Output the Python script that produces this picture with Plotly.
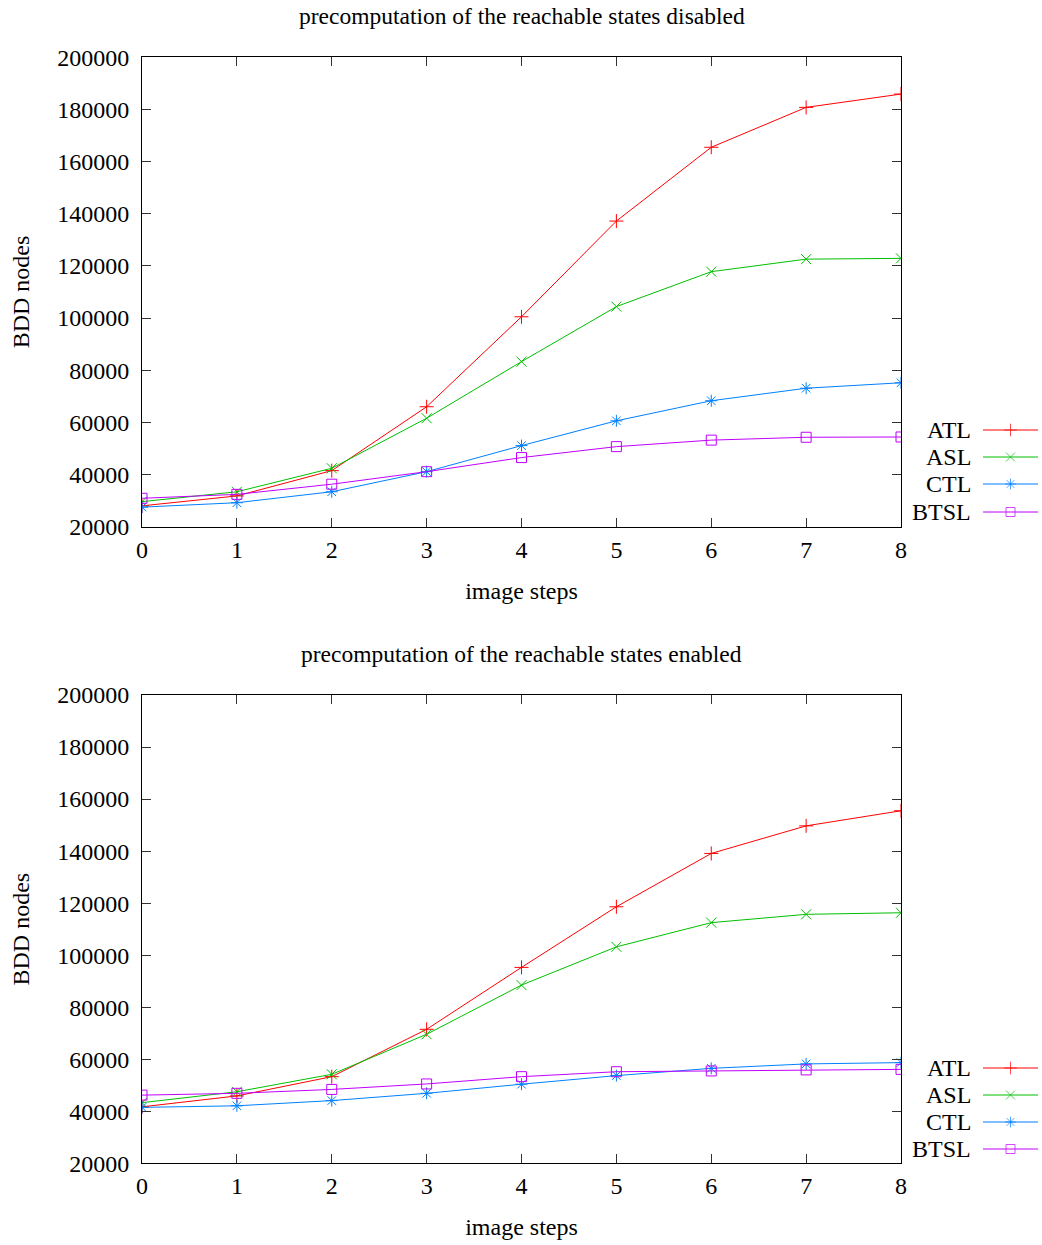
import plotly.graph_objects as go

W, H = 1042, 1245

steps = [0, 1, 2, 3, 4, 5, 6, 7, 8]
series_names = ["ATL", "ASL", "CTL", "BTSL"]

# precomputation disabled
atl_disabled = [28000, 31800, 41500, 66000, 100500, 137200, 165500, 180800, 185900]
asl_disabled = [29600, 33400, 42400, 61600, 83300, 104400, 117800, 122600, 122900]
ctl_disabled = [27500, 29200, 33400, 41100, 51100, 60600, 68300, 73100, 75200]
btsl_disabled = [30900, 32400, 36300, 41100, 46500, 50700, 53200, 54300, 54400]

# precomputation enabled
atl_enabled = [41700, 45900, 53300, 71500, 95300, 118600, 139100, 149700, 155500]
asl_enabled = [43300, 47500, 54200, 69600, 88500, 103200, 112500, 115700, 116300]
ctl_enabled = [41500, 42100, 44100, 46900, 50400, 53700, 56500, 58200, 58700]
btsl_enabled = [46200, 46900, 48400, 50500, 53300, 55200, 55500, 55900, 56100]

titles = ["precomputation of the reachable states disabled",
          "precomputation of the reachable states enabled"]
x_title = "image steps"
y_title = "BDD nodes"

colors = ["#ff0000", "#00c000", "#0080ff", "#c000ff"]
symbols = ["cross-thin-open", "x-thin-open", "asterisk-open", "square-open"]
msizes = [10, 10, 10, 10]

FONT = "Liberation Serif, Times New Roman, serif"
FS = 24

panels = [
    [atl_disabled, asl_disabled, ctl_disabled, btsl_disabled],
    [atl_enabled, asl_enabled, ctl_enabled, btsl_enabled],
]

# pixel layout
px_left, px_right = 142, 901
panel_px = [(57.3, 526.7), (695.0, 1163.3)]
legend_rows = [[430, 457, 484, 512], [1068, 1095, 1122, 1149]]
title_y = [16, 654]

fig = go.Figure()

for p, data in enumerate(panels):
    xa = "x" if p == 0 else "x2"
    ya = "y" if p == 0 else "y2"
    for i, vals in enumerate(data):
        fig.add_trace(go.Scatter(
            x=steps, y=vals, mode="lines+markers", name=series_names[i],
            xaxis=xa, yaxis=ya, showlegend=False,
            line=dict(color=colors[i], width=1),
            marker=dict(symbol=symbols[i], size=msizes[i],
                        color=colors[i], line=dict(color=colors[i], width=1)),
        ))

# legend samples on an overlay axis in pixel units
for p in range(2):
    for i in range(4):
        r = legend_rows[p][i]
        fig.add_trace(go.Scatter(
            x=[0, 0.5, 1], y=[r, r, r], mode="lines+markers",
            xaxis="x3", yaxis="y3", showlegend=False, hoverinfo="skip",
            line=dict(color=colors[i], width=1),
            marker=dict(symbol=symbols[i], size=[0, 9, 0],
                        color=colors[i], line=dict(color=colors[i], width=1)),
        ))
        fig.add_annotation(
            x=973 / W, y=1 - r / H, xref="paper", yref="paper",
            text=series_names[i], showarrow=False, xanchor="right", yanchor="middle",
            font=dict(family=FONT, size=FS, color="black"))

xd = [px_left / W, px_right / W]
common_x = dict(range=[0, 8], dtick=1, tick0=0, ticks="inside", ticklen=9,
                tickcolor="#333", showline=True, linecolor="black", linewidth=1,
                mirror="ticks", showgrid=False, zeroline=False,
                tickfont=dict(family=FONT, size=FS, color="black"),
                title=dict(text=x_title, font=dict(family=FONT, size=FS, color="black"),
                           standoff=20),
                ticklabelstandoff=1)
common_y = dict(range=[20000, 200000], dtick=20000, tick0=0, ticks="inside", ticklen=9,
                tickcolor="#333", showline=True, linecolor="black", linewidth=1,
                mirror="ticks", showgrid=False, zeroline=False, tickformat="d",
                tickfont=dict(family=FONT, size=FS, color="black"),
                title=dict(text=y_title, font=dict(family=FONT, size=FS, color="black"),
                           standoff=20),
                ticklabelstandoff=7)

layout = dict(
    width=W, height=H,
    margin=dict(l=0, r=0, t=0, b=0, autoexpand=False),
    paper_bgcolor="white", plot_bgcolor="white",
    font=dict(family=FONT, size=FS, color="black"),
    xaxis=dict(domain=xd, anchor="y", **common_x),
    yaxis=dict(domain=[1 - panel_px[0][1] / H, 1 - panel_px[0][0] / H], anchor="x", **common_y),
    xaxis2=dict(domain=xd, anchor="y2", **common_x),
    yaxis2=dict(domain=[1 - panel_px[1][1] / H, 1 - panel_px[1][0] / H], anchor="x2", **common_y),
    xaxis3=dict(domain=[983 / W, 1038 / W], range=[0, 1], visible=False, anchor="y3"),
    yaxis3=dict(domain=[0, 1], range=[H, 0], visible=False, anchor="x3"),
)
fig.update_layout(**layout)

for p in range(2):
    fig.add_annotation(x=(px_left + px_right) / 2 / W, y=1 - title_y[p] / H,
                       xref="paper", yref="paper", text=titles[p], showarrow=False,
                       xanchor="center", yanchor="middle",
                       font=dict(family=FONT, size=23.5, color="black"))

fig.write_html("out.html", config={"displayModeBar": False},
               post_script="document.body.style.margin='0';document.body.style.padding='0';")
